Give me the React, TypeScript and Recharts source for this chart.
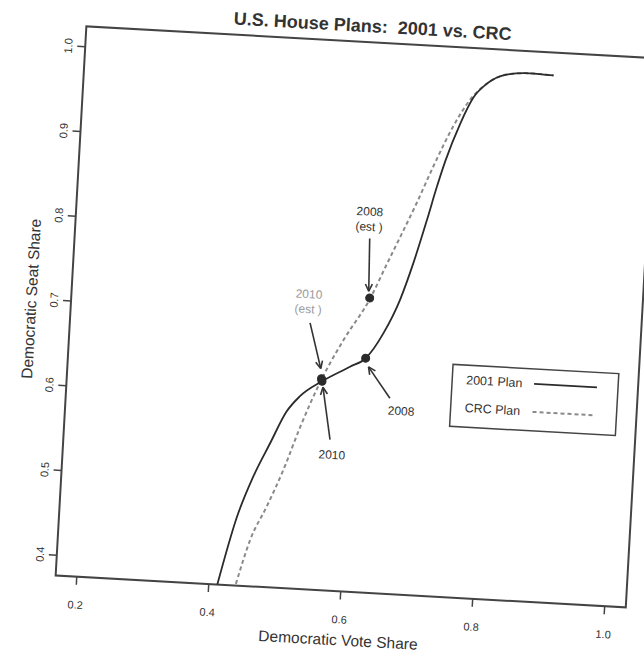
import React from 'react';
import {
  ComposedChart,
  Line,
  XAxis,
  YAxis,
  ReferenceArea,
  ReferenceLine,
  ReferenceDot,
  Legend,
} from 'recharts';

// ---- data ----
const voteShare2001 = [0.413, 0.437, 0.458, 0.481, 0.503, 0.522, 0.554, 0.595, 0.618, 0.643, 0.665, 0.682, 0.699, 0.711, 0.722, 0.741, 0.759, 0.778, 0.807, 0.842, 0.878];
const seatShare2001 = [0.376, 0.457, 0.505, 0.546, 0.584, 0.603, 0.622, 0.641, 0.652, 0.683, 0.723, 0.767, 0.819, 0.858, 0.89, 0.934, 0.966, 0.983, 0.995, 0.998, 0.997];

const voteShareCRC = [0.441, 0.459, 0.481, 0.503, 0.525, 0.553, 0.583, 0.62, 0.642, 0.66, 0.682, 0.704, 0.731, 0.754, 0.778, 0.807, 0.842, 0.878];
const seatShareCRC = [0.378, 0.431, 0.471, 0.515, 0.567, 0.624, 0.672, 0.723, 0.764, 0.797, 0.838, 0.882, 0.931, 0.963, 0.983, 0.995, 0.998, 0.997];

const seriesNames = ['2001 Plan', 'CRC Plan'];

const xTicks = [0.2, 0.4, 0.6, 0.8, 1.0];
const yTicks = [0.4, 0.5, 0.6, 0.7, 0.8, 0.9, 1.0];

// election points
const pointVote = [0.619, 0.618, 0.553, 0.554];
const pointSeat = [0.723, 0.652, 0.625, 0.622];

// annotation texts
const annoLines = [['2008', '(est )'], ['2010', '(est )'], ['2010'], ['2008']];
const annoVote = [0.612, 0.527, 0.575, 0.676];
const annoSeat = [0.824, 0.723, 0.536, 0.592];
const annoFaded = [false, true, false, false];

// arrows (from -> to)
const arrowFromVote = [0.614, 0.531, 0.571, 0.658];
const arrowFromSeat = [0.793, 0.69, 0.554, 0.6065];
const arrowToVote = [0.617, 0.551, 0.556, 0.623];
const arrowToSeat = [0.731, 0.637, 0.615, 0.642];

const data2001 = voteShare2001.map((x, i) => ({ x, y: seatShare2001[i] }));
const dataCRC = voteShareCRC.map((x, i) => ({ x, y: seatShareCRC[i] }));

const FONT = '"Liberation Sans", Arial, sans-serif';
const INK = '#333';

const XTick = (props: any) => {
  const { x, y, payload } = props;
  return (
    <text x={x} y={y + 20} textAnchor="middle" dominantBaseline="central" fontSize={11} fill={INK} fontFamily={FONT}>
      {Number(payload.value).toFixed(1)}
    </text>
  );
};

const YTick = (props: any) => {
  const { x, y, payload } = props;
  const tx = x - 9;
  return (
    <text x={tx} y={y} transform={`rotate(-90 ${tx} ${y})`} textAnchor="middle" dominantBaseline="central" fontSize={11} fill={INK} fontFamily={FONT}>
      {Number(payload.value).toFixed(1)}
    </text>
  );
};

const Arrow = (props: any) => {
  const { x1, y1, x2, y2 } = props;
  const ang = Math.atan2(y2 - y1, x2 - x1);
  const L = 8;
  const a1 = ang + Math.PI - 0.45;
  const a2 = ang + Math.PI + 0.45;
  return (
    <g>
      <line x1={x1} y1={y1} x2={x2} y2={y2} stroke={INK} strokeWidth={1.6} />
      <line x1={x2} y1={y2} x2={x2 + L * Math.cos(a1)} y2={y2 + L * Math.sin(a1)} stroke={INK} strokeWidth={1.6} />
      <line x1={x2} y1={y2} x2={x2 + L * Math.cos(a2)} y2={y2 + L * Math.sin(a2)} stroke={INK} strokeWidth={1.6} />
    </g>
  );
};

const makeAnno = (lines: string[], faded: boolean) => (props: any) => {
  const { cx, cy } = props;
  const n = lines.length;
  return (
    <g>
      {lines.map((t, i) => (
        <text
          key={i}
          x={cx}
          y={cy + (i - (n - 1) / 2) * 15 + (n > 1 ? 7 : 0)}
          textAnchor="middle"
          dominantBaseline="central"
          fontSize={12}
          fontFamily={FONT}
          fill={faded ? '#9a9a9a' : INK}
        >
          {t}
        </text>
      ))}
    </g>
  );
};

const lineStyles: Record<string, { stroke: string; dash?: string; width: number }> = {
  '2001 Plan': { stroke: '#2b2b2b', width: 1.8 },
  'CRC Plan': { stroke: '#8a8a8a', dash: '4 3', width: 2 },
};

const LegendBox = (props: any) => {
  const payload = props.payload || [];
  return (
    <svg width={168} height={64} style={{ display: 'block', overflow: 'visible' }}>
      <rect x={1} y={1} width={166} height={62} fill="#fff" stroke="#444" strokeWidth={1.5} />
      {payload.map((p: any, i: number) => {
        const st = lineStyles[p.value] || { stroke: p.color, width: 1.5 };
        const yy = 16 + i * 28;
        return (
          <g key={i}>
            <text x={15} y={yy} dominantBaseline="central" fontSize={12.5} fontFamily={FONT} fill={INK}>
              {p.value}
            </text>
            <line x1={83} x2={146} y1={yy} y2={yy} stroke={st.stroke} strokeWidth={st.width} strokeDasharray={st.dash} />
          </g>
        );
      })}
    </svg>
  );
};

export default function App() {
  return (
    <div
      style={{
        position: 'absolute',
        left: 0,
        top: 0,
        width: 644,
        height: 652,
        background: '#fff',
        transform: 'rotate(3.2deg)',
        transformOrigin: '322px 326px',
        fontFamily: FONT,
      }}
    >
      <div
        style={{
          position: 'absolute',
          left: 156,
          width: 400,
          top: 13,
          lineHeight: '22px',
          textAlign: 'center',
          fontSize: 18,
          fontWeight: 'bold',
          color: INK,
          fontFamily: FONT,
          zIndex: 2,
        }}
      >
        U.S. House Plans:&nbsp; 2001 vs. CRC
      </div>
      <ComposedChart width={644} height={652} margin={{ top: 40, right: 3, bottom: 22, left: 25 }}>
        <XAxis
          type="number"
          dataKey="x"
          domain={[0.168, 1.032]}
          allowDataOverflow
          ticks={xTicks}
          tick={<XTick />}
          tickSize={8}
          tickMargin={0}
          axisLine={false}
          tickLine={{ stroke: '#444', strokeWidth: 1.5 }}
          height={40}
          label={{ value: 'Democratic Vote Share', position: 'insideBottom', offset: -14, fontSize: 15.5, fill: INK, fontFamily: FONT }}
        />
        <YAxis
          type="number"
          dataKey="y"
          domain={[0.376, 1.024]}
          allowDataOverflow
          ticks={yTicks}
          tick={<YTick />}
          tickSize={8}
          tickMargin={0}
          axisLine={false}
          tickLine={{ stroke: '#444', strokeWidth: 1.5 }}
          width={45}
          label={{ value: 'Democratic Seat Share', angle: -90, position: 'insideLeft', offset: 5, fontSize: 15.5, fill: INK, fontFamily: FONT, style: { textAnchor: 'middle' } }}
        />
        <ReferenceArea x1={0.168} x2={1.032} y1={0.376} y2={1.024} fill="none" stroke="#444" strokeWidth={2} ifOverflow="visible" />
        <Line
          data={dataCRC}
          dataKey="y"
          name={seriesNames[1]}
          type="monotone"
          stroke={lineStyles['CRC Plan'].stroke}
          strokeWidth={2}
          strokeDasharray="4 3"
          dot={false}
          isAnimationActive={false}
        />
        <Line
          data={data2001}
          dataKey="y"
          name={seriesNames[0]}
          type="monotone"
          stroke={lineStyles['2001 Plan'].stroke}
          strokeWidth={1.8}
          dot={false}
          isAnimationActive={false}
        />
        {pointVote.map((v, i) => (
          <ReferenceDot key={'p' + i} x={v} y={pointSeat[i]} r={4} fill="#2b2b2b" stroke="#2b2b2b" ifOverflow="visible" />
        ))}
        {arrowFromVote.map((v, i) => (
          <ReferenceLine
            key={'a' + i}
            segment={[
              { x: v, y: arrowFromSeat[i] },
              { x: arrowToVote[i], y: arrowToSeat[i] },
            ]}
            shape={<Arrow />}
            ifOverflow="visible"
          />
        ))}
        {annoVote.map((v, i) => (
          <ReferenceDot key={'t' + i} x={v} y={annoSeat[i]} r={0} shape={makeAnno(annoLines[i], annoFaded[i])} ifOverflow="visible" />
        ))}
        <Legend
          layout="vertical"
          align="center"
          verticalAlign="middle"
          content={<LegendBox />}
          wrapperStyle={{ left: 454, top: 356, width: 168, height: 64 }}
        />
      </ComposedChart>
    </div>
  );
}
